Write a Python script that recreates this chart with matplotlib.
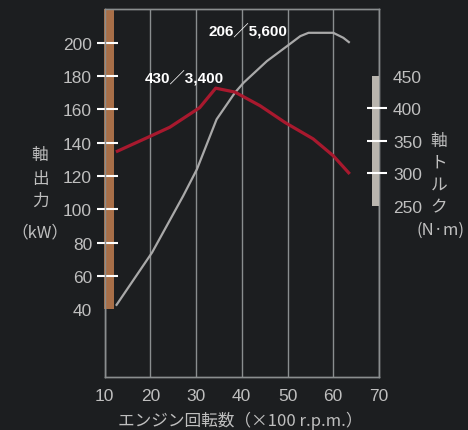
import matplotlib
matplotlib.use('Agg')
import matplotlib.pyplot as plt
from matplotlib import font_manager
from matplotlib.transforms import blended_transform_factory

# ---------------- data ----------------
rpm_power = [12.5, 20.4, 27.2, 30.2, 34.5, 38.5, 40.4, 45.5, 49.9, 52.8, 54.6, 56.0, 60.0, 62.2, 63.6]
power_kw = [42, 74, 108, 124, 154, 170, 176, 189, 198, 204, 206, 206, 206, 203, 200]
rpm_torque = [12.5, 20.0, 24.3, 30.8, 34.3, 38.5, 44.0, 49.5, 55.6, 60.0, 63.6]
torque_nm = [333, 357, 371, 401, 431, 425, 404, 378, 353, 327, 299]

x_ticks = [10, 20, 30, 40, 50, 60, 70]
power_ticks = [40, 60, 80, 100, 120, 140, 160, 180, 200]
power_marks = [60, 80, 100, 120, 140, 160, 180, 200]
torque_ticks = [250, 300, 350, 400, 450]
torque_marks = [300, 350, 400]
power_bar_range = [40, 220.3]
torque_bar_range = [250, 450]

peak_torque_label = '430／3,400'
peak_power_label = '206／5,600'
x_label = 'エンジン回転数（×100 r.p.m.）'

# ---------------- style ----------------
names = {f.name for f in font_manager.fontManager.ttflist}
NUM = 'Liberation Sans Narrow' if 'Liberation Sans Narrow' in names else 'Liberation Sans'
CJK = 'Noto Sans CJK JP'
BG = '#1c1e20'
TXT = '#bfbfbf'
GRID = '#8a8e8f'
RED = '#a8192e'
GRAYLINE = '#a9a9a9'
ORANGE = '#a86f48'
GRAYBAR = '#b9b5ae'

W, H = 468, 431
fig = plt.figure(figsize=(W / 100, H / 100), dpi=100, facecolor=BG)
L, R, T, B = 104.5, 379.0, 10.0, 378.0
ax = fig.add_axes([L / W, 1 - B / H, (R - L) / W, (B - T) / H])
ax.set_facecolor(BG)
ax2 = ax.twinx()

ax.set_xlim(10, 70)
ax.set_ylim(-0.8, 220.3)
ax2.set_ylim(-13.4, 552.8)

for a in (ax, ax2):
    for s in a.spines.values():
        s.set_color(GRID)
        s.set_linewidth(1.0)

ax.set_xticks(x_ticks)
ax.grid(axis='x', color=GRID, linewidth=1.0)
ax.grid(axis='y', visible=False)
ax.tick_params(axis='x', length=0, pad=8, labelsize=12.5, labelcolor=TXT)
for lab in ax.get_xticklabels():
    lab.set_fontfamily(NUM)

ax.set_yticks(power_ticks)
ax.tick_params(axis='y', length=0, pad=9, labelsize=12.5, labelcolor=TXT)
for lab in ax.get_yticklabels():
    lab.set_fontfamily(NUM)

ax2.set_yticks(torque_ticks)
ax2.tick_params(axis='y', length=0, pad=10, labelsize=12.5, labelcolor=TXT)
for lab in ax2.get_yticklabels():
    lab.set_fontfamily(NUM)

# axis range bars
ax.fill_betweenx(power_bar_range, 9.9, 12.1, color=ORANGE, zorder=3, clip_on=False, linewidth=0)
ax2.fill_betweenx(torque_bar_range, 68.4, 70.1, color=GRAYBAR, zorder=3, clip_on=False, linewidth=0)

# tick marks
tr1 = blended_transform_factory(ax.transAxes, ax.transData)
ax.hlines(power_marks, -0.028, 0.050, transform=tr1, colors='white', linewidth=1.5, zorder=4, clip_on=False)
tr2 = blended_transform_factory(ax2.transAxes, ax2.transData)
ax2.hlines(torque_marks, 0.955, 1.030, transform=tr2, colors='white', linewidth=1.5, zorder=4, clip_on=False)

# curves
ax.plot(rpm_power, power_kw, color=GRAYLINE, linewidth=1.6, zorder=5, solid_capstyle='butt')
ax2.plot(rpm_torque, torque_nm, color=RED, linewidth=2.3, zorder=5, solid_capstyle='butt')

# annotations
ax.text((145 - L) / (R - L), 1 - (77.7 - T) / (B - T), peak_torque_label, transform=ax.transAxes,
        ha='left', va='center', color='white', fontsize=11, fontweight='bold', family=[NUM, CJK], zorder=6)
ax.text((208.3 - L) / (R - L), 1 - (30.7 - T) / (B - T), peak_power_label, transform=ax.transAxes,
        ha='left', va='center', color='white', fontsize=11, fontweight='bold', family=[NUM, CJK], zorder=6)

# axis titles
def ftxt(x, y, s, ha='center', **kw):
    fig.text(x / W, 1 - y / H, s, ha=ha, va='center', color=TXT, fontsize=12, family=[CJK, 'DejaVu Sans'], **kw)

for ch, yy in zip(['軸', '出', '力', '（kW）'], [155, 179.5, 201.5, 232.5]):
    ftxt(40, yy, ch)
for ch, yy in zip(['軸', 'ト', 'ル', 'ク'], [141.7, 163, 185, 207.5]):
    ftxt(439, yy, ch)
ftxt(465, 230.5, '(N·m)', ha='right')
ftxt(240, 420.5, x_label)

fig.savefig('out.png', dpi=100, facecolor=BG)
